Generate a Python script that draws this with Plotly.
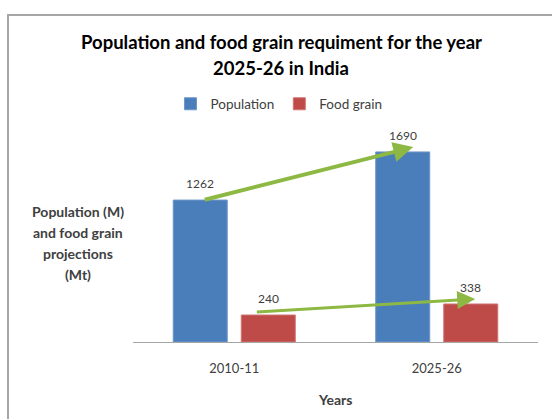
import plotly.graph_objects as go

categories = ["2010-11", "2025-26"]
population = [1262, 1690]
food_grain = [240, 338]
title_lines = ["Population and food grain requiment for the year", "2025-26 in India"]
ytitle_lines = ["Population (M)", "and food grain", "projections", "(Mt)"]

FONT = "Lato"
GREY = "#404040"
BARGAP = 0.328
BARGROUPGAP = 0.206

fig = go.Figure()
fig.add_trace(go.Bar(
    name="Population", x=categories, y=population,
    marker=dict(color="#4a7ebb", line=dict(color="#6f97c9", width=1)),
))
fig.add_trace(go.Bar(
    name="Food grain", x=categories, y=food_grain,
    marker=dict(color="#be4b48", line=dict(color="#d07573", width=1)),
))

annotations = []
# data labels above bars
off = (1 - BARGAP) / 4
for series, sign in ((population, -1), (food_grain, 1)):
    for i, v in enumerate(series):
        annotations.append(dict(
            text=str(v), x=i + sign * off, y=v, xref="x", yref="y",
            showarrow=False, xanchor="center", yanchor="bottom", yshift=7,
            font=dict(family=FONT, size=12, color=GREY),
        ))
# title lines
for i, t in enumerate(title_lines):
    annotations.append(dict(
        text="<b>%s</b>" % t, xref="paper", yref="paper",
        x=(281 - 133) / 405, y=(342 - (42 + 26 * i)) / 212,
        showarrow=False, xanchor="center", yanchor="middle",
        font=dict(family=FONT, size=18.5, color="#000000"),
    ))
# y-axis title lines
for i, t in enumerate(ytitle_lines):
    annotations.append(dict(
        text="<b>%s</b>" % t, xref="paper", yref="paper",
        x=(78 - 133) / 405, y=(342 - (211 + 21 * i)) / 212,
        showarrow=False, xanchor="center", yanchor="middle",
        font=dict(family=FONT, size=14, color=GREY),
    ))
# x-axis title
annotations.append(dict(
    text="<b>Years</b>", xref="paper", yref="paper",
    x=(335 - 133) / 405, y=(342 - 399) / 212,
    showarrow=False, xanchor="center", yanchor="middle",
    font=dict(family=FONT, size=14, color=GREY),
))
# trend arrows (from first-year bar top to next-year bar top)
annotations.append(dict(
    x=1 - 0.116, y=population[1] + 43, ax=-0.153, ay=population[0],
    xref="x", yref="y", axref="x", ayref="y", text="",
    showarrow=True, arrowhead=2, arrowsize=1.0, arrowwidth=4, arrowcolor="#8db843",
))
annotations.append(dict(
    x=1 + 0.19, y=food_grain[1] + 44, ax=0.104, ay=food_grain[0] + 27,
    xref="x", yref="y", axref="x", ayref="y", text="",
    showarrow=True, arrowhead=2, arrowsize=1.2, arrowwidth=3, arrowcolor="#8db843",
))

fig.update_layout(
    width=552, height=419,
    margin=dict(l=133, r=14, t=130, b=77),
    paper_bgcolor="white", plot_bgcolor="white",
    barmode="group", bargap=BARGAP, bargroupgap=BARGROUPGAP,
    font=dict(family=FONT, color=GREY),
    showlegend=True,
    legend=dict(orientation="h", x=(279 - 133) / 405, y=(342 - 104) / 212,
                xanchor="center", yanchor="middle",
                font=dict(family=FONT, size=13.5, color=GREY),
                itemwidth=30, traceorder="normal"),
    annotations=annotations,
    shapes=[dict(type="rect", xref="paper", yref="paper",
                 x0=(8 - 133) / 405, x1=1.2, y0=-0.6, y1=(342 - 15) / 212,
                 line=dict(color="#a6a6a6", width=2), layer="below")],
)
fig.update_xaxes(
    type="category",
    showline=True, linecolor="#a6a6a6", linewidth=1,
    ticks="outside", ticklen=14, tickcolor="rgba(0,0,0,0)",
    tickfont=dict(family=FONT, size=13, color=GREY),
    showgrid=False,
)
fig.update_yaxes(range=[0, 1885], visible=False, showgrid=False)

fig.write_html("out.html")
